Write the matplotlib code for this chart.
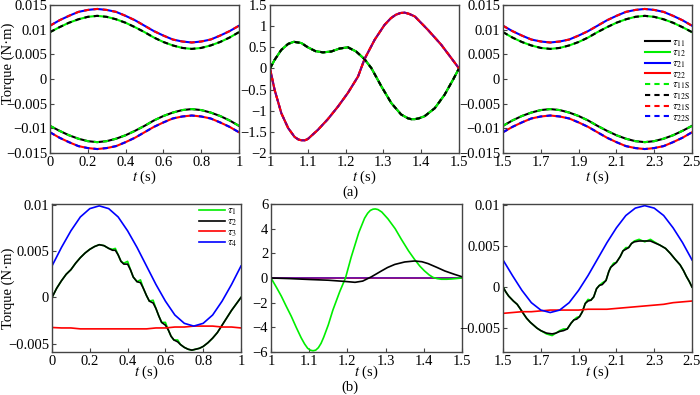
import matplotlib
matplotlib.use('Agg')
import matplotlib.pyplot as plt

plt.rcParams['font.family'] = ['Liberation Serif', 'DejaVu Serif']
plt.rcParams['mathtext.fontset'] = 'stix'
plt.rcParams['font.size'] = 10.5

# ---- (a) top row: link torques, analytic vs simulated ----
t_a1 = [0.0, 0.05, 0.1, 0.15, 0.2, 0.25, 0.3, 0.35, 0.4, 0.45, 0.5,
        0.55, 0.6, 0.65, 0.7, 0.75, 0.8, 0.85, 0.9, 0.95, 1.0]
tau21_a1 = [0.0108, 0.0119, 0.0128, 0.0136, 0.0140, 0.0142, 0.0140, 0.0136, 0.0128, 0.0119, 0.0108,
            0.0097, 0.0088, 0.0080, 0.0076, 0.0074, 0.0076, 0.0080, 0.0088, 0.0097, 0.0108]
tau12_a1 = [0.0095, 0.0105, 0.0114, 0.0121, 0.0126, 0.0128, 0.0126, 0.0121, 0.0114, 0.0105, 0.0095,
            0.0084, 0.0075, 0.0068, 0.0063, 0.0061, 0.0063, 0.0068, 0.0075, 0.0084, 0.0095]
tau11_a1 = [-0.0095, -0.0105, -0.0114, -0.0121, -0.0126, -0.0128, -0.0126, -0.0121, -0.0114, -0.0105, -0.0095,
            -0.0084, -0.0075, -0.0068, -0.0063, -0.0061, -0.0063, -0.0068, -0.0075, -0.0084, -0.0095]
tau22_a1 = [-0.0108, -0.0119, -0.0128, -0.0136, -0.0140, -0.0142, -0.0140, -0.0136, -0.0128, -0.0119, -0.0108,
            -0.0097, -0.0088, -0.0080, -0.0076, -0.0074, -0.0076, -0.0080, -0.0088, -0.0097, -0.0108]

t_a2 = [1.0, 1.012, 1.03, 1.048, 1.063, 1.083, 1.1, 1.12, 1.14, 1.162, 1.184, 1.206, 1.228, 1.25,
        1.268, 1.295, 1.321, 1.347, 1.365, 1.374, 1.383, 1.394, 1.409, 1.436, 1.462, 1.484, 1.5]
tau1x_a2 = [0.0, 0.2, 0.44, 0.58, 0.63, 0.6, 0.5, 0.41, 0.38, 0.40, 0.47, 0.50, 0.40, 0.22,
            0.01, -0.43, -0.82, -1.09, -1.18, -1.2, -1.2, -1.18, -1.13, -0.94, -0.62, -0.27, 0.0]
t_a2b = [1.0, 1.012, 1.03, 1.048, 1.065, 1.075, 1.083, 1.092, 1.1, 1.127, 1.153, 1.18, 1.206, 1.233, 1.25,
         1.277, 1.303, 1.32, 1.333, 1.345, 1.356, 1.368, 1.383, 1.418, 1.453, 1.48, 1.5]
tau2x_a2 = [0.0, -0.5, -1.06, -1.41, -1.62, -1.68, -1.70, -1.70, -1.67, -1.45, -1.2, -0.9, -0.58, -0.19, 0.22,
            0.68, 1.03, 1.19, 1.27, 1.31, 1.32, 1.29, 1.23, 0.91, 0.56, 0.24, 0.0]

t_a3 = [1.5, 1.55, 1.6, 1.65, 1.7, 1.75, 1.8, 1.85, 1.9, 1.95, 2.0,
        2.05, 2.1, 2.15, 2.2, 2.25, 2.3, 2.35, 2.4, 2.45, 2.5]
tau21_a3 = [0.0108, 0.0097, 0.0088, 0.0080, 0.0076, 0.0074, 0.0076, 0.0080, 0.0088, 0.0097, 0.0108,
            0.0119, 0.0128, 0.0136, 0.0140, 0.0142, 0.0140, 0.0136, 0.0128, 0.0119, 0.0108]
tau12_a3 = [0.0095, 0.0084, 0.0075, 0.0068, 0.0063, 0.0061, 0.0063, 0.0068, 0.0075, 0.0084, 0.0095,
            0.0105, 0.0114, 0.0121, 0.0126, 0.0128, 0.0126, 0.0121, 0.0114, 0.0105, 0.0095]
tau11_a3 = [-0.0095, -0.0084, -0.0075, -0.0068, -0.0063, -0.0061, -0.0063, -0.0068, -0.0075, -0.0084, -0.0095,
            -0.0105, -0.0114, -0.0121, -0.0126, -0.0128, -0.0126, -0.0121, -0.0114, -0.0105, -0.0095]
tau22_a3 = [-0.0108, -0.0097, -0.0088, -0.0080, -0.0076, -0.0074, -0.0076, -0.0080, -0.0088, -0.0097, -0.0108,
            -0.0119, -0.0128, -0.0136, -0.0140, -0.0142, -0.0140, -0.0136, -0.0128, -0.0119, -0.0108]

# ---- (b) bottom row: joint torques ----
t_b1 = [0, .025, .05, .075, .1, .125, .15, .175, .2, .225, .25, .275, .3, .32, .335,
        .35, .365, .38, .40, .415, .43, .45, .468, .483, .5, .515, .535, .55, .565, .58,
        .60, .615, .63, .645, .665, .68, .70, .72, .74, .76, .78, .80, .825, .85, .875,
        .9, .925, .95, .975, 1.0]
tau2_b1 = [0, .0010, .0018, .0025, .0030, .0037, .0043, .0048, .0052, .0055, .0057, .0056, .0053, .0051, .0051,
           .0046, .0039, .0036, .0036, .0030, .0022, .0017, .0016, .0010, .0002, -.0004, -.0006, -.0012, -.0020, -.0027,
           -.0030, -.0035, -.0042, -.0046, -.0048, -.0051, -.0054, -.0056, -.0057, -.0056, -.0055, -.0053, -.0049, -.0044, -.0038,
           -.0030, -.0022, -.0014, -.0007, 0]
tau1_b1 = [0, .0010, .0018, .0025, .0030, .0037, .0043, .0048, .0052, .0055, .0057, .0056, .0053, .0052, .0053,
           .0046, .0039, .0037, .0039, .0030, .0022, .0017, .0019, .0010, .0002, -.0004, -.0003, -.0012, -.0020, -.0027,
           -.0027, -.0035, -.0042, -.0046, -.0046, -.0051, -.0054, -.0056, -.0057, -.0056, -.0055, -.0053, -.0049, -.0044, -.0038,
           -.0030, -.0022, -.0014, -.0007, 0]
t_b1s = [0.0, 0.05, 0.1, 0.15, 0.2, 0.25, 0.3, 0.35, 0.4, 0.45, 0.5,
         0.55, 0.6, 0.65, 0.7, 0.75, 0.8, 0.85, 0.9, 0.95, 1.0]
tau4_b1 = [.0034, .0054, .0072, .0087, .0096, .0099, .0096, .0087, .0072, .0054, .0034,
           .0014, -.0004, -.0019, -.0028, -.0031, -.0028, -.0019, -.0004, .0014, .0034]
tau3_b1 = [-.00325, -.0033, -.0033, -.0034, -.0034, -.0034, -.0034, -.0034, -.0034, -.0034, -.0034,
           -.0033, -.0033, -.0032, -.0032, -.0031, -.0031, -.0031, -.0032, -.0032, -.0033]

t_b2 = [1.0, 1.015, 1.027, 1.04, 1.053, 1.066, 1.079, 1.088, 1.096, 1.103, 1.11, 1.117, 1.124, 1.131,
        1.138, 1.15, 1.162, 1.18, 1.195, 1.21, 1.23, 1.245, 1.253, 1.26, 1.267, 1.273, 1.28, 1.29,
        1.306, 1.325, 1.341, 1.36, 1.376, 1.39, 1.402, 1.414, 1.424, 1.435, 1.446, 1.46, 1.472, 1.486, 1.5]
tau1_b2 = [0.0, -0.8, -1.47, -2.3, -3.1, -4.0, -4.85, -5.35, -5.7, -5.85, -5.9, -5.85, -5.65, -5.3,
           -4.8, -3.8, -2.6, -1.1, 0.0, 1.7, 3.7, 4.85, 5.25, 5.48, 5.58, 5.6, 5.55, 5.35,
           4.8, 4.0, 3.15, 2.2, 1.5, 0.95, 0.57, 0.25, 0.05, -0.05, -0.1, -0.1, -0.08, -0.04, 0.0]
t_b2k = [1.0, 1.05, 1.1, 1.15, 1.19, 1.22, 1.24, 1.263, 1.289, 1.305, 1.324, 1.35, 1.376,
         1.395, 1.411, 1.435, 1.455, 1.48, 1.5]
tau2_b2 = [0.0, -0.05, -0.12, -0.18, -0.27, -0.35, -0.25, 0.1, 0.57, 0.85, 1.1, 1.3, 1.38,
           1.32, 1.17, 0.85, 0.57, 0.3, 0.1]
t_b2s = [1.0, 1.25, 1.5]
tau3_b2 = [-0.0033, -0.0034, -0.0032]
tau4_b2 = [0.0034, 0.0099, 0.0033]

t_b3 = [1.5, 1.515, 1.53, 1.555, 1.575, 1.59, 1.61, 1.625, 1.645, 1.66, 1.68, 1.70, 1.73, 1.76,
        1.78, 1.80, 1.82, 1.84, 1.86, 1.875, 1.89, 1.905, 1.92, 1.935, 1.95, 1.965, 1.98, 1.995,
        2.01, 2.025, 2.045, 2.06, 2.07, 2.085, 2.10, 2.12, 2.135, 2.15, 2.165, 2.18, 2.195, 2.22,
        2.25, 2.28, 2.30, 2.33, 2.36, 2.385, 2.41, 2.437, 2.455, 2.47, 2.485, 2.5]
tau2_b3 = [0, -.0006, -.0011, -.0017, -.0021, -.0026, -.0033, -.0038, -.0043, -.0046, -.0050, -.0053, -.0056, -.0057,
           -.0056, -.0054, -.0053, -.0051, -.0044, -.0040, -.0039, -.0036, -.0030, -.0020, -.0017, -.0016, -.0012, -.0002,
           .0002, .0003, .0008, .0019, .0024, .0027, .0030, .0037, .0044, .0046, .0048, .0053, .0055, .0056,
           .0056, .0056, .0054, .0051, .0047, .0041, .0034, .0027, .0020, .0013, .0007, 0]
tau1_b3 = [0, -.0006, -.0011, -.0017, -.0021, -.0026, -.0033, -.0038, -.0043, -.0046, -.0050, -.0053, -.0057, -.0059,
           -.0056, -.0053, -.0051, -.0051, -.0044, -.0040, -.0037, -.0036, -.0030, -.0020, -.0015, -.0016, -.0012, -.0002,
           .0002, .0005, .0008, .0019, .0024, .0029, .0030, .0037, .0044, .0048, .0048, .0053, .0056, .0058,
           .0055, .0058, .0055, .0051, .0047, .0041, .0034, .0027, .0020, .0013, .0007, 0]
t_b3s = [1.5, 1.55, 1.6, 1.65, 1.7, 1.75, 1.8, 1.85, 1.9, 1.95, 2.0,
         2.05, 2.1, 2.15, 2.2, 2.25, 2.3, 2.35, 2.4, 2.45, 2.5]
tau4_b3 = [.0033, .0014, -.0004, -.0019, -.0028, -.0031, -.0028, -.0019, -.0004, .0014, .0034,
           .0054, .0072, .0087, .0096, .0099, .0096, .0087, .0072, .0054, .0033]
tau3_b3 = [-.0032, -.0031, -.0030, -.0030, -.0029, -.0028, -.0028, -.0028, -.0028, -.0027, -.0027,
           -.0027, -.0026, -.0025, -.0024, -.0023, -.0022, -.0021, -.0019, -.0018, -.0017]

legend_a = [r'$\tau_{11}$', r'$\tau_{12}$', r'$\tau_{21}$', r'$\tau_{22}$',
            r'$\tau_{\mathrm{11S}}$', r'$\tau_{\mathrm{12S}}$', r'$\tau_{\mathrm{21S}}$', r'$\tau_{\mathrm{22S}}$']
legend_b = [r'$\tau_1$', r'$\tau_2$', r'$\tau_3$', r'$\tau_4$']

GREEN = '#00ee00'
FRAME = '#444444'
W, H = 700.0, 395.0
DASH = (0, (2.5, 2.0))


def make_ax(x0, x1, ytop, ybot):
    ax = fig.add_axes([x0 / W, 1 - ybot / H, (x1 - x0) / W, (ybot - ytop) / H])
    for s in ax.spines.values():
        s.set_color(FRAME)
        s.set_linewidth(1.0)
    ax.tick_params(direction='in', length=3, color=FRAME, pad=2, labelsize=10.5)
    return ax


def set_ticks(ax, xt, yt):
    ax.set_xticks(xt)
    ax.set_xticklabels([f'{v:g}' for v in xt])
    ax.set_yticks(yt)
    ax.set_yticklabels([f'{v:g}'.replace('-', '\u2212') for v in yt])


def xlabel(ax, y):
    ax.text(0.5, y, r'$t$ (s)', transform=ax.transAxes, ha='center', va='center', fontsize=10.5)


def draw_a(ax, t, t11, t12, t21, t22, tb=None):
    tb = t if tb is None else tb
    lw = 1.5
    l1, = ax.plot(t, t11, color='black', lw=lw)
    l2, = ax.plot(t, t12, color=GREEN, lw=lw)
    l3, = ax.plot(tb, t21, color='blue', lw=lw)
    l4, = ax.plot(tb, t22, color='red', lw=lw)
    l5, = ax.plot(t, t11, color=GREEN, lw=lw, ls=DASH)
    l6, = ax.plot(t, t12, color='black', lw=lw, ls=DASH)
    l7, = ax.plot(tb, t21, color='red', lw=lw, ls=DASH)
    l8, = ax.plot(tb, t22, color='blue', lw=lw, ls=DASH)
    return [l1, l2, l3, l4, l5, l6, l7, l8]


fig = plt.figure(figsize=(7, 3.95), dpi=100)

# top row
ax1 = make_ax(50, 239, 5, 153)
draw_a(ax1, t_a1, tau11_a1, tau12_a1, tau21_a1, tau22_a1)
ax1.set_xlim(0, 1)
ax1.set_ylim(-0.015, 0.015)
set_ticks(ax1, [0, 0.2, 0.4, 0.6, 0.8, 1], [0.015, 0.01, 0.005, 0, -0.005, -0.01, -0.015])
xlabel(ax1, -0.165)

ax2 = make_ax(270, 459, 5, 153)
# in this interval tau11 = tau12 and tau21 = tau22
mid = draw_a(ax2, t_a2, tau1x_a2, tau1x_a2, tau2x_a2, tau2x_a2, tb=t_a2b)
mid[7].set_alpha(0.6)
mid[7].set_linewidth(1.0)
ax2.set_xlim(1, 1.5)
ax2.set_ylim(-2, 1.5)
set_ticks(ax2, [1, 1.1, 1.2, 1.3, 1.4, 1.5], [1.5, 1, 0.5, 0, -0.5, -1, -1.5, -2])
xlabel(ax2, -0.165)

ax3 = make_ax(503, 692, 5, 153)
lines = draw_a(ax3, t_a3, tau11_a3, tau12_a3, tau21_a3, tau22_a3)
ax3.set_xlim(1.5, 2.5)
ax3.set_ylim(-0.015, 0.015)
set_ticks(ax3, [1.5, 1.7, 1.9, 2.1, 2.3, 2.5], [0.015, 0.01, 0.005, 0, -0.005, -0.01, -0.015])
xlabel(ax3, -0.165)
ax3.legend(lines, legend_a, loc='center left', bbox_to_anchor=(0.72, 0.49), frameon=False,
           fontsize=8, handlelength=2.3, handletextpad=0.2, labelspacing=-0.05, borderpad=0)

# bottom row
lwb = 1.2
ax4 = make_ax(52, 241, 204, 352)
g1, = ax4.plot(t_b1, tau1_b1, color=GREEN, lw=lwb)
k1, = ax4.plot(t_b1, tau2_b1, color='black', lw=lwb)
r1, = ax4.plot(t_b1s, tau3_b1, color='red', lw=lwb)
b1, = ax4.plot(t_b1s, tau4_b1, color='blue', lw=lwb)
ax4.set_xlim(0, 1)
ax4.set_ylim(-0.0059, 0.0101)
set_ticks(ax4, [0, 0.2, 0.4, 0.6, 0.8, 1], [0.01, 0.005, 0, -0.005])
xlabel(ax4, -0.14)
ax4.legend([g1, k1, r1, b1], legend_b, loc='center left', bbox_to_anchor=(0.75, 0.84), frameon=False,
           fontsize=8, handlelength=2.3, handletextpad=0.2, labelspacing=-0.05, borderpad=0)

ax5 = make_ax(271, 462, 204, 352)
ax5.plot(t_b2s, tau3_b2, color='red', lw=lwb)
ax5.plot(t_b2s, tau4_b2, color='blue', lw=lwb, alpha=0.6)
ax5.plot(t_b2, tau1_b2, color=GREEN, lw=lwb)
ax5.plot(t_b2k, tau2_b2, color='black', lw=lwb)
ax5.set_xlim(1, 1.5)
ax5.set_ylim(-6, 6)
set_ticks(ax5, [1, 1.1, 1.2, 1.3, 1.4, 1.5], [6, 4, 2, 0, -2, -4, -6])
xlabel(ax5, -0.14)

ax6 = make_ax(503, 692, 204, 352)
ax6.plot(t_b3, tau1_b3, color=GREEN, lw=lwb)
ax6.plot(t_b3, tau2_b3, color='black', lw=lwb)
ax6.plot(t_b3s, tau3_b3, color='red', lw=lwb)
ax6.plot(t_b3s, tau4_b3, color='blue', lw=lwb)
ax6.set_xlim(1.5, 2.5)
ax6.set_ylim(-0.0079, 0.0101)
set_ticks(ax6, [1.5, 1.7, 1.9, 2.1, 2.3, 2.5], [0.01, 0.005, 0, -0.005])
xlabel(ax6, -0.14)

fig.text(8 / W, 1 - 63 / H, 'Torque (N\u00b7m)', rotation=90, ha='center', va='center', fontsize=10.5)
fig.text(8 / W, 1 - 288 / H, 'Torque (N\u00b7m)', rotation=90, ha='center', va='center', fontsize=10.5)
fig.text(350 / W, 1 - 192 / H, '(a)', ha='center', va='center', fontsize=10.5)
fig.text(350 / W, 1 - 387 / H, '(b)', ha='center', va='center', fontsize=10.5)

fig.savefig('out.png', dpi=100)
